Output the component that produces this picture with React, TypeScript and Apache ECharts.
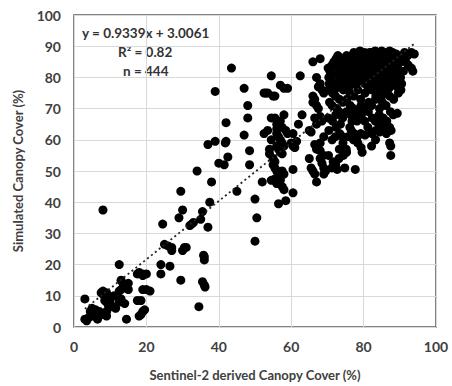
import React, { useEffect, useRef } from "react";
import * as echarts from "echarts";

const xTicks = [0, 20, 40, 60, 80, 100];
const yTicks = [0, 10, 20, 30, 40, 50, 60, 70, 80, 90, 100];
const slope = 0.9339;
const intercept = 3.0061;
const trendX = [3, 94];
const equationText = "y = 0.9339x + 3.0061";
const r2Text = "R² = 0.82";
const nText = "n = 444";

const lowPoints: number[][] = [
  [3, 9], [3, 2.5], [3.5, 2], [4, 3], [5, 3.5], [5, 6], [6, 5.5], [6, 4.5], [7, 5], [7, 4],
  [8, 11.5], [8, 10.5], [7.5, 11], [9, 11], [8.5, 8.5], [9, 8], [10, 9], [9.5, 7], [10.5, 6.5], [9, 5],
  [8, 4], [9, 3.5], [11, 10], [10, 7.5], [8, 37.5], [12.5, 20], [13, 15], [13.5, 14], [14, 13], [13, 12],
  [12.5, 11.5], [13, 9], [12.5, 8], [14, 7.5], [15, 12], [15, 14], [14.5, 12.5], [14.5, 2.5], [17.5, 17], [18, 17.5],
  [19, 17], [19, 16.5], [20, 17], [17.5, 8.5], [18.5, 8.5], [19, 12], [20, 12], [21, 11.5], [18.5, 4], [19, 5],
  [19.5, 5.5], [18, 3.5], [4.5, 5], [6.5, 2.5], [11.5, 6]
];

const midPoints: number[][] = [
  [24, 20], [24, 17], [24.5, 33], [25, 26.5], [26, 26], [27, 25.5], [27, 24.5], [26.5, 19.5], [29, 35], [29.5, 43.5],
  [30, 37.5], [29.5, 15], [30, 24.5], [30.5, 25.5], [31, 25.5], [32, 32.5], [32.5, 33], [33, 33.5], [34, 50], [35, 34.5],
  [35.5, 37], [36, 22.5], [36, 21.5], [35.8, 23], [35.5, 14.5], [36, 13.5], [36.2, 12.8], [34.5, 6.5], [37, 58.5], [37.5, 40],
  [37, 32], [38, 46.5], [39, 59.5], [39, 75.5], [40, 52.5], [41.5, 52], [42, 59.5], [42, 65.5], [41.8, 59], [42.5, 54.5],
  [43.5, 83], [45, 43.5], [47, 76.5], [47, 61.5], [48, 71], [48, 67], [48.5, 56.5], [48.5, 52], [50, 41], [50.5, 35],
  [50, 27.5], [52, 46.5], [52.5, 75], [53, 75], [53.5, 75], [52.5, 62], [53.5, 63], [54.5, 80.5], [55, 74], [55.5, 74],
  [54.5, 67], [55.5, 67], [54.5, 60], [54, 57], [54, 55.5], [55, 54], [55.5, 53], [55, 52], [55.5, 51], [56, 50],
  [54.5, 47], [55.5, 47.5], [56, 46], [56.5, 39.5], [57, 48], [57, 47], [57.5, 45], [58, 44], [58.5, 40.5], [57.5, 50],
  [58, 49], [56, 58], [56.5, 57], [57, 56], [57.5, 55.5], [57, 77.5], [58, 76.5], [56, 62], [56.5, 61], [57, 60],
  [57.5, 59], [58, 58], [56, 65], [57, 66], [58, 68], [57.5, 64], [56, 63.5], [59, 76.5], [60.5, 62], [60.5, 58],
  [61, 57.5], [60.5, 50.5], [60.5, 43], [61.5, 59.5], [62, 65], [62.5, 80.5], [63, 68], [60, 59], [58.5, 63], [59, 62]
];

const highPoints: number[][] = [
  [65, 63], [65.5, 62.5], [65, 54], [65.5, 51], [66, 50], [66.5, 49], [67, 46.5], [66.5, 58.5], [67, 57], [66, 74],
  [66.5, 73], [66, 72], [67, 71], [67.5, 70], [66, 85], [68, 86], [67, 80], [67.5, 77], [68, 78], [68.5, 76],
  [69, 75], [66.5, 67], [67, 65], [68, 67.5], [68.5, 66], [68, 54], [68.5, 52.5], [69, 51], [69.5, 50], [69, 49],
  [68, 56.5], [69, 55], [68, 59], [69, 61],
  [70.2, 83], [70.7, 82], [71.3, 84], [71.8, 85], [72.4, 86], [72.9, 87], [73.2, 85], [73.7, 84], [74.3, 86], [74.8, 85],
  [75.3, 87], [70.4, 80], [71.2, 79], [72.3, 78], [73.4, 80], [74.2, 81], [75.4, 82], [70.3, 76], [71.4, 75], [72.2, 74],
  [73.3, 73], [74.4, 76], [75.2, 77], [70.6, 72], [71.3, 71], [72.6, 70], [73.2, 69], [74.3, 72], [75.4, 73], [70.2, 67],
  [71.4, 66], [72.3, 68], [73.6, 65], [74.2, 67], [75.3, 69], [70.4, 63], [71.3, 60], [72.2, 61], [73.4, 62], [74.3, 59],
  [75.2, 57], [70.3, 55], [71.6, 53], [72.3, 52], [73.2, 54], [74.4, 55], [75.3, 56], [71.2, 51], [72.7, 50.5], [74.8, 51],
  [73.3, 57], [74.2, 61], [72.4, 64],
  [76.3, 86], [76.8, 87], [77.3, 88], [77.7, 86.5], [78.2, 87], [78.7, 88], [79.3, 86], [79.8, 87.5], [80.3, 88], [76.2, 84],
  [77.4, 85], [78.3, 84.5], [79.2, 85], [80.4, 84], [76.4, 82], [77.2, 81], [78.4, 83], [79.3, 82], [80.2, 81.5], [76.3, 79],
  [77.4, 78], [78.2, 80], [79.4, 79], [80.3, 78], [76.2, 75], [77.3, 74], [78.4, 76], [79.2, 73], [80.4, 75], [76.3, 71],
  [77.2, 70], [78.4, 69], [79.3, 71], [80.2, 70], [76.4, 68], [77.3, 67], [78.2, 66], [79.4, 68], [80.3, 66], [76.2, 64],
  [77.4, 62], [78.3, 61], [79.2, 62], [80.4, 61.5], [77.2, 60], [78.4, 59], [79.3, 57.5], [79.6, 56], [77.7, 50.5], [76.6, 63],
  [75.7, 61], [76.8, 66],
  [81.2, 87], [81.7, 88], [82.3, 86], [82.8, 87.5], [83.2, 88.5], [83.7, 86], [84.3, 87], [84.8, 88], [85.2, 86.5], [81.3, 85],
  [82.2, 84], [83.4, 85], [84.2, 84.5], [85.3, 85], [81.4, 83], [82.3, 82], [83.2, 83], [84.4, 82], [85.2, 83], [81.3, 80],
  [82.4, 79], [83.2, 81], [84.3, 78], [85.4, 80], [81.2, 77], [82.3, 76], [83.4, 74], [84.2, 75], [85.3, 77], [81.4, 72],
  [82.2, 71], [83.3, 73], [84.4, 70], [85.2, 72], [81.3, 69], [82.4, 67], [83.2, 66], [84.3, 68], [85.4, 67], [81.2, 64],
  [82.3, 62], [83.4, 63], [84.2, 65], [85.3, 66], [82.2, 58], [83.3, 60], [84.4, 62.5], [85.2, 64],
  [86.3, 88], [86.8, 87], [87.2, 88.5], [87.7, 86], [88.3, 87], [88.7, 85], [89.2, 86], [89.7, 84.5], [90.2, 85], [91.3, 88],
  [92.2, 87], [93.2, 88], [94, 87.5], [86.2, 84], [87.3, 83], [88.2, 82], [89.3, 83], [90.2, 80], [86.4, 81], [87.2, 79],
  [88.4, 78], [89.2, 77], [90.3, 76], [89.6, 75], [86.3, 76], [87.2, 74], [88.3, 73], [86.2, 71], [87.4, 69], [88.2, 68],
  [89.3, 68.5], [86.4, 66], [87.2, 64], [87.6, 63], [86.3, 62], [87.2, 59], [87.5, 58], [87.5, 55], [93.2, 83], [93.6, 82],
  [92.3, 84], [91.6, 85], [90.7, 86.5]
];

const densePoints: number[][] = [
  [76.5, 85.5], [77.5, 83.5], [78.5, 86], [79.5, 84], [80.5, 86.5], [81.5, 84.5], [82.5, 85.5], [83.5, 84], [84.5, 86], [85.5, 87.5],
  [86.5, 85.5], [87.5, 84], [88.5, 86.5], [79, 88.5], [80, 87], [81, 86], [82, 88], [83, 87], [84, 85.5], [85, 88.5],
  [86, 86], [87, 85], [88, 88], [89, 87.5], [78, 85.5], [77, 87], [75.5, 85], [74.5, 83], [73.5, 82], [72.5, 83.5],
  [71.5, 81], [70.5, 78], [76.5, 80.5], [77.5, 79], [78.5, 81.5], [79.5, 80], [80.5, 82.5], [81.5, 81], [82.5, 80], [83.5, 82.5],
  [84.5, 80.5], [85.5, 82], [86.5, 80], [87.5, 81], [88.5, 80.5], [89.5, 79], [90.5, 78], [91, 82], [89, 81], [84, 79.5],
  [82, 78], [80, 79.5], [78, 78], [76, 77], [74, 78.5], [72, 76], [73, 77.5], [75, 79.5], [86, 78], [87, 76.5],
  [85, 74], [83, 76.5]
];

const FONT = "Lato, 'Open Sans', sans-serif";
const TEXT_COLOR = "#404040";

export default function App() {
  const ref = useRef<HTMLDivElement>(null);
  useEffect(() => {
    if (!ref.current) return;
    const chart = echarts.init(ref.current, undefined, { renderer: "svg" });
    const trendData = trendX.map((x) => [x, slope * x + intercept]);
    chart.setOption({
      animation: false,
      backgroundColor: "#ffffff",
      grid: {
        left: 74,
        right: 16,
        top: 15,
        bottom: 58,
        show: true,
        borderColor: "#5a5a5a",
        borderWidth: 1.5,
        backgroundColor: "transparent",
      },
      xAxis: {
        type: "value",
        min: xTicks[0],
        max: xTicks[xTicks.length - 1],
        interval: 20,
        name: "Sentinel-2 derived Canopy Cover (%)",
        nameLocation: "middle",
        nameGap: 41,
        nameTextStyle: { fontFamily: FONT, fontWeight: "bold", fontSize: 13, color: TEXT_COLOR },
        axisLine: { show: false },
        axisTick: { show: false },
        axisLabel: { fontFamily: FONT, fontWeight: "bold", fontSize: 14, color: TEXT_COLOR, margin: 12 },
        splitLine: { show: true, lineStyle: { color: "#d9d9d9", width: 1 } },
      },
      yAxis: {
        type: "value",
        min: yTicks[0],
        max: yTicks[yTicks.length - 1],
        interval: 10,
        name: "Simulated Canopy Cover (%)",
        nameLocation: "middle",
        nameGap: 50,
        nameTextStyle: { fontFamily: FONT, fontWeight: "bold", fontSize: 13, color: TEXT_COLOR },
        axisLine: { show: false },
        axisTick: { show: false },
        axisLabel: { fontFamily: FONT, fontWeight: "bold", fontSize: 14, color: TEXT_COLOR, margin: 13 },
        splitLine: { show: true, lineStyle: { color: "#d9d9d9", width: 1 } },
      },
      series: [
        {
          type: "scatter",
          symbol: "circle",
          symbolSize: 9,
          itemStyle: { color: "#000000", opacity: 1 },
          data: [...lowPoints, ...midPoints, ...highPoints, ...densePoints],
          z: 2,
        },
        {
          type: "line",
          data: trendData,
          symbol: "none",
          lineStyle: { color: "#222222", width: 1.8, type: [2, 3] },
          z: 3,
        },
      ],
      graphic: [
        {
          type: "text",
          left: 82,
          top: 26,
          style: { text: equationText, font: `bold 13.5px ${FONT}`, fill: "#333333" },
        },
        {
          type: "text",
          left: 118,
          top: 45,
          style: { text: r2Text, font: `bold 13.5px ${FONT}`, fill: "#333333" },
        },
        {
          type: "text",
          left: 123,
          top: 64,
          style: { text: nText, font: `bold 13.5px ${FONT}`, fill: "#333333" },
        },
      ],
    });
    return () => chart.dispose();
  }, []);
  return (
    <div
      ref={ref}
      style={{ position: "absolute", left: 0, top: 0, width: 452, height: 386 }}
    />
  );
}
